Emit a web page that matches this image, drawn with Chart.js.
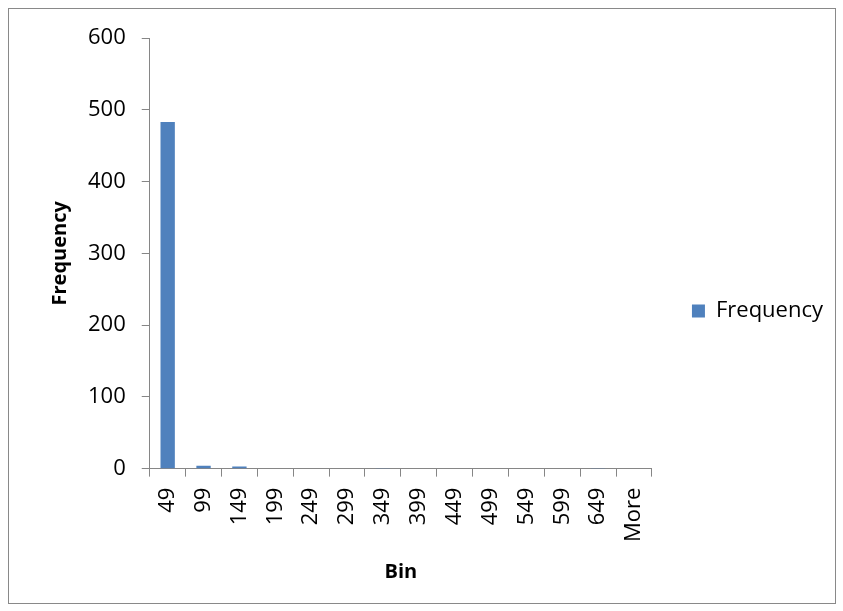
<!DOCTYPE html>
<html>
<head>
<meta charset="utf-8">
<script src="https://cdn.jsdelivr.net/npm/chart.js@4.4.0/dist/chart.umd.min.js"></script>
<style>
    body { margin: 0; background: #fff; }
    #moldura {
        position: absolute;
        left: 8px; top: 8px;
        width: 826px; height: 594px;
        border: 1px solid #898989;
    }
    #grafico-box {
        position: absolute;
        left: 0; top: 0;
        width: 843px; height: 611px;
    }
</style>
</head>
<body>
<div id="moldura"></div>
<div id="grafico-box">
    <canvas id="myChartCanvas"></canvas>
</div>
<script>
// dados do histograma
let bins = ['49', '99', '149', '199', '249', '299', '349', '399', '449', '499', '549', '599', '649', 'More'];
let frequencias = [483, 4, 3, 0, 0, 0, 1, 0, 0, 0, 0, 0, 1, 0];
let ticksY = [0, 100, 200, 300, 400, 500, 600];

let fonte = "'Open Sans', Lato, sans-serif";
let corEixo = '#868686';

const config = {
    type: 'bar',
    data: {
        labels: bins,
        datasets: [{
            label: 'Frequency',
            data: frequencias,
            backgroundColor: '#4F81BD',
            borderWidth: 0,
            barPercentage: 0.4,
            categoryPercentage: 1
        }]
    },
    options: {
        responsive: false,
        animation: false,
        layout: {
            padding: { left: 48, right: 10, top: 38, bottom: 27 }
        },
        plugins: {
            legend: {
                position: 'right',
                labels: {
                    boxWidth: 13,
                    boxHeight: 13,
                    color: '#000',
                    padding: 40,
                    font: { family: fonte, size: 22 }
                }
            },
            tooltip: { enabled: false }
        },
        scales: {
            x: {
                grid: {
                    drawOnChartArea: false,
                    color: corEixo,
                    tickLength: 8
                },
                border: { color: corEixo },
                ticks: {
                    color: '#000',
                    minRotation: 90,
                    maxRotation: 90,
                    padding: 11,
                    font: { family: fonte, size: 22 }
                },
                title: {
                    display: true,
                    text: 'Bin',
                    color: '#000',
                    padding: { top: 7, bottom: 0 },
                    font: { family: fonte, size: 20, weight: 'bold' }
                }
            },
            y: {
                min: 0,
                max: 600,
                afterBuildTicks: (eixo) => {
                    eixo.ticks = ticksY.map(v => ({ value: v }));
                },
                grid: {
                    drawOnChartArea: false,
                    color: corEixo,
                    tickLength: 8
                },
                border: { color: corEixo },
                ticks: {
                    color: '#000',
                    padding: 16,
                    font: { family: fonte, size: 22 }
                },
                title: {
                    display: true,
                    text: 'Frequency',
                    color: '#000',
                    padding: { top: 0, bottom: 0 },
                    font: { family: fonte, size: 20, weight: 'bold' }
                }
            }
        }
    }
};

let canvas = document.getElementById('myChartCanvas');
canvas.width = 843;
canvas.height = 611;
let myChart = new Chart(canvas, config);
</script>
</body>
</html>
